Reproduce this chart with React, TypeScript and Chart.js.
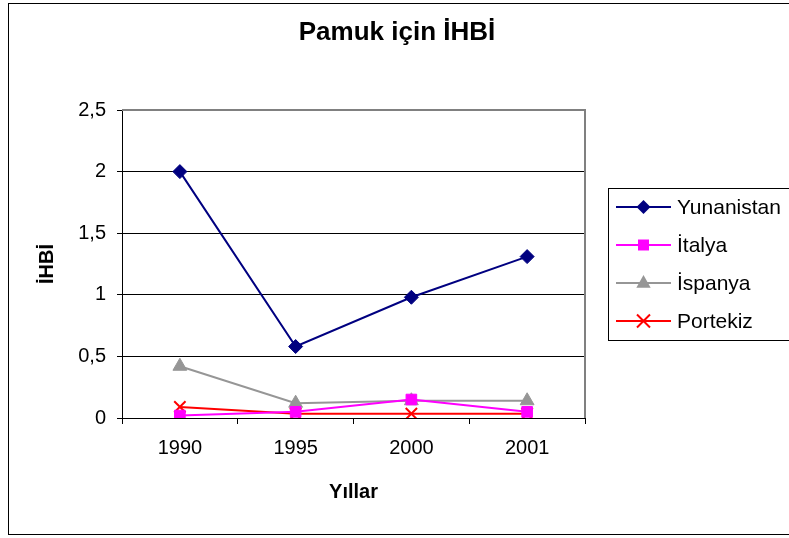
import React, { useEffect, useRef } from "react";
import { Chart, registerables } from "chart.js";

Chart.register(...registerables);

const TITLE = "Pamuk için İHBİ";
const X_TITLE = "Yıllar";
const Y_TITLE = "İHBİ";
const years = ["1990", "1995", "2000", "2001"];
const yunanistan = [2.0, 0.58, 0.98, 1.31];
const italya = [0.02, 0.05, 0.15, 0.05];
const ispanya = [0.42, 0.12, 0.14, 0.14];
const portekiz = [0.09, 0.035, 0.035, 0.035];
const seriesNames = ["Yunanistan", "İtalya", "İspanya", "Portekiz"];

const FONT = "'Liberation Sans', Arial, sans-serif";

function drawMarker(ctx: CanvasRenderingContext2D, kind: string, x: number, y: number, color: string) {
  ctx.save();
  ctx.fillStyle = color;
  ctx.strokeStyle = color;
  ctx.beginPath();
  if (kind === "diamond") {
    const s = 7;
    ctx.moveTo(x, y - s);
    ctx.lineTo(x + s, y);
    ctx.lineTo(x, y + s);
    ctx.lineTo(x - s, y);
    ctx.closePath();
    ctx.fill();
  } else if (kind === "square") {
    const s = 5.5;
    ctx.rect(x - s, y - s, 2 * s, 2 * s);
    ctx.fill();
  } else if (kind === "triangle") {
    const s = 8;
    ctx.moveTo(x, y - s);
    ctx.lineTo(x + s * 0.9, y + s * 0.6);
    ctx.lineTo(x - s * 0.9, y + s * 0.6);
    ctx.closePath();
    ctx.fill();
  } else {
    const s = 6.5;
    ctx.lineWidth = 2;
    ctx.moveTo(x - s, y - s);
    ctx.lineTo(x + s, y + s);
    ctx.moveTo(x + s, y - s);
    ctx.lineTo(x - s, y + s);
    ctx.stroke();
  }
  ctx.restore();
}

const overlay = {
  id: "overlay",
  afterDraw(chart: any) {
    const ctx: CanvasRenderingContext2D = chart.ctx;
    const a = chart.chartArea;
    ctx.save();
    // outer border
    ctx.strokeStyle = "#000";
    ctx.lineWidth = 1;
    ctx.strokeRect(8.5, 3.5, 800, 531);
    // plot border top/right
    ctx.strokeStyle = "#808080";
    ctx.lineWidth = 2;
    ctx.beginPath();
    ctx.moveTo(a.left, a.top);
    ctx.lineTo(a.right, a.top);
    ctx.lineTo(a.right, a.bottom);
    ctx.stroke();
    // title
    ctx.fillStyle = "#000";
    ctx.textAlign = "center";
    ctx.textBaseline = "middle";
    ctx.font = `bold 26px ${FONT}`;
    ctx.fillText(TITLE, 397, 33);
    // x title
    ctx.font = `bold 20px ${FONT}`;
    ctx.fillText(X_TITLE, (a.left + a.right) / 2, 492);
    // y title
    ctx.save();
    ctx.translate(47, (a.top + a.bottom) / 2);
    ctx.rotate(-Math.PI / 2);
    ctx.fillText(Y_TITLE, 0, 0);
    ctx.restore();
    // legend
    ctx.strokeStyle = "#000";
    ctx.lineWidth = 1;
    ctx.fillStyle = "#fff";
    ctx.fillRect(608.5, 188.5, 200, 152);
    ctx.strokeRect(608.5, 188.5, 200, 152);
    const kinds = ["diamond", "square", "triangle", "cross"];
    chart.data.datasets.forEach((ds: any, i: number) => {
      const y = 207 + i * 38;
      ctx.strokeStyle = ds.borderColor;
      ctx.lineWidth = 2;
      ctx.beginPath();
      ctx.moveTo(616, y);
      ctx.lineTo(671, y);
      ctx.stroke();
      drawMarker(ctx, kinds[i], 643.5, y, ds.borderColor);
      ctx.fillStyle = "#000";
      ctx.textAlign = "left";
      ctx.textBaseline = "middle";
      ctx.font = `21px ${FONT}`;
      ctx.fillText(ds.label, 677, y + 1);
    });
    ctx.restore();
  },
};

export default function App() {
  const ref = useRef<HTMLCanvasElement>(null);
  useEffect(() => {
    if (!ref.current) return;
    const mk = (label: string, data: number[], color: string, style: string, radius: number) => ({
      label,
      data,
      borderColor: color,
      backgroundColor: color,
      borderWidth: 2,
      pointStyle: style,
      pointRadius: radius,
      pointBorderWidth: style === "crossRot" ? 2 : 1,
      pointBackgroundColor: color,
      pointBorderColor: color,
      tension: 0,
    });
    const chart = new Chart(ref.current, {
      type: "line",
      data: {
        labels: years,
        datasets: [
          mk(seriesNames[0], yunanistan, "#000080", "rectRot", 7),
          mk(seriesNames[1], italya, "#FF00FF", "rect", 7.5),
          mk(seriesNames[2], ispanya, "#969696", "triangle", 8),
          mk(seriesNames[3], portekiz, "#FF0000", "crossRot", 8),
        ],
      },
      options: {
        responsive: false,
        animation: false,
        layout: { padding: { top: 110, right: 204, left: 0, bottom: 0 } },
        plugins: { legend: { display: false }, title: { display: false }, tooltip: { enabled: false } },
        scales: {
          x: {
            offset: true,
            afterFit: (s: any) => { s.height = 120; },
            grid: { offset: true, drawOnChartArea: false, drawTicks: true, tickLength: 6, color: "#000" },
            border: { display: true, color: "#000", width: 1 },
            ticks: { color: "#000", font: { family: FONT, size: 20 }, padding: 12, maxRotation: 0 },
          },
          y: {
            min: 0,
            max: 2.5,
            afterFit: (s: any) => { s.width = 122; },
            grid: {
              color: (c: any) => (c.tick && c.tick.value === 2.5 ? "rgba(0,0,0,0)" : "#000"),
              tickColor: "#000",
              tickLength: 5,
              drawTicks: true,
            },
            border: { display: true, color: "#000", width: 1 },
            ticks: {
              stepSize: 0.5,
              color: "#000",
              padding: 11,
              font: { family: FONT, size: 20 },
              callback: (v: any) => String(Number(v)).replace(".", ","),
            },
          },
        },
      },
      plugins: [overlay],
    });
    return () => chart.destroy();
  }, []);
  return (
    <div style={{ position: "absolute", left: 0, top: 0, width: 789, height: 538, background: "#fff" }}>
      <canvas ref={ref} width={789} height={538} style={{ width: 789, height: 538 }} />
    </div>
  );
}
